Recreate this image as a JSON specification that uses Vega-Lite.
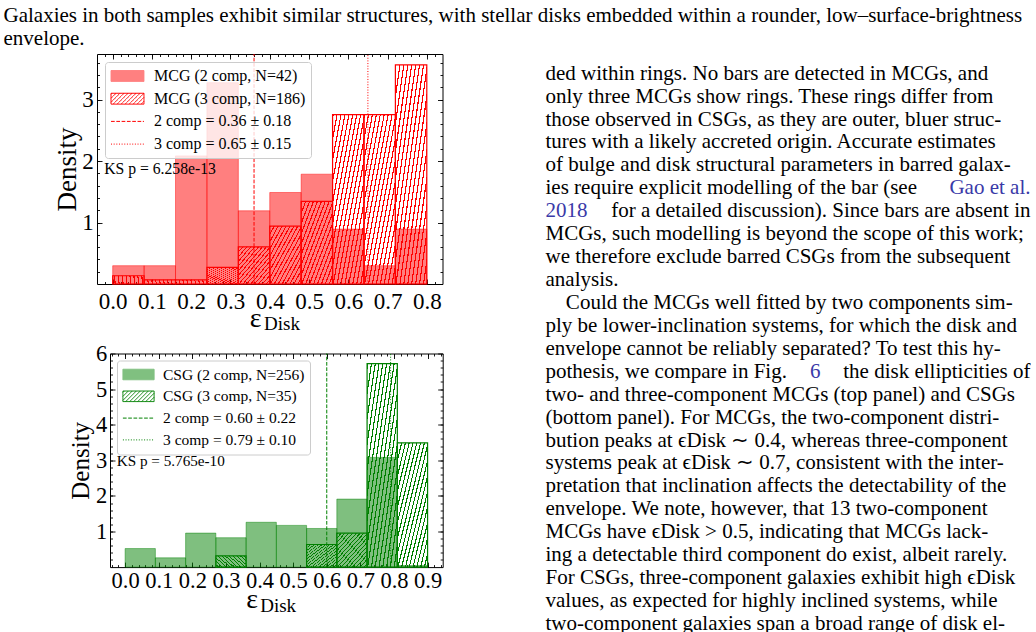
{
  "$schema": "https://vega.github.io/schema/vega-lite/v6.json",
  "padding": {"left": 3, "top": 5, "right": 0, "bottom": 0},
  "background": "#ffffff",
  "title": {
    "text": ["Galaxies in both samples exhibit similar structures, with stellar disks embedded within a rounder, low–surface-brightness", "envelope."],
    "anchor": "start", "frame": "group", "font": "Liberation Serif", "fontSize": 21, "fontWeight": "normal",
    "color": "#000000", "lineHeight": 23, "offset": 4, "dx": -46.5
  },
  "datasets": {
    "hist": [
      {"sample": "MCG", "comp": 2, "series": "MCG (2 comp, N=42)", "x0": 0.00, "x1": 0.08, "density": 0.2976},
      {"sample": "MCG", "comp": 2, "series": "MCG (2 comp, N=42)", "x0": 0.08, "x1": 0.16, "density": 0.2976},
      {"sample": "MCG", "comp": 2, "series": "MCG (2 comp, N=42)", "x0": 0.16, "x1": 0.24, "density": 2.0833},
      {"sample": "MCG", "comp": 2, "series": "MCG (2 comp, N=42)", "x0": 0.24, "x1": 0.32, "density": 3.2738},
      {"sample": "MCG", "comp": 2, "series": "MCG (2 comp, N=42)", "x0": 0.32, "x1": 0.40, "density": 1.1905},
      {"sample": "MCG", "comp": 2, "series": "MCG (2 comp, N=42)", "x0": 0.40, "x1": 0.48, "density": 1.4881},
      {"sample": "MCG", "comp": 2, "series": "MCG (2 comp, N=42)", "x0": 0.48, "x1": 0.56, "density": 1.7857},
      {"sample": "MCG", "comp": 2, "series": "MCG (2 comp, N=42)", "x0": 0.56, "x1": 0.64, "density": 0.8929},
      {"sample": "MCG", "comp": 2, "series": "MCG (2 comp, N=42)", "x0": 0.64, "x1": 0.72, "density": 0.2976},
      {"sample": "MCG", "comp": 2, "series": "MCG (2 comp, N=42)", "x0": 0.72, "x1": 0.80, "density": 0.8929},
      {"sample": "MCG", "comp": 3, "series": "MCG (3 comp, N=186)", "x0": 0.00, "x1": 0.08, "density": 0.1344},
      {"sample": "MCG", "comp": 3, "series": "MCG (3 comp, N=186)", "x0": 0.08, "x1": 0.16, "density": 0.0672},
      {"sample": "MCG", "comp": 3, "series": "MCG (3 comp, N=186)", "x0": 0.16, "x1": 0.24, "density": 0.0672},
      {"sample": "MCG", "comp": 3, "series": "MCG (3 comp, N=186)", "x0": 0.24, "x1": 0.32, "density": 0.2688},
      {"sample": "MCG", "comp": 3, "series": "MCG (3 comp, N=186)", "x0": 0.32, "x1": 0.40, "density": 0.6048},
      {"sample": "MCG", "comp": 3, "series": "MCG (3 comp, N=186)", "x0": 0.40, "x1": 0.48, "density": 0.9409},
      {"sample": "MCG", "comp": 3, "series": "MCG (3 comp, N=186)", "x0": 0.48, "x1": 0.56, "density": 1.3441},
      {"sample": "MCG", "comp": 3, "series": "MCG (3 comp, N=186)", "x0": 0.56, "x1": 0.64, "density": 2.7554},
      {"sample": "MCG", "comp": 3, "series": "MCG (3 comp, N=186)", "x0": 0.64, "x1": 0.72, "density": 2.7554},
      {"sample": "MCG", "comp": 3, "series": "MCG (3 comp, N=186)", "x0": 0.72, "x1": 0.80, "density": 3.5618},
      {"sample": "CSG", "comp": 2, "series": "CSG (2 comp, N=256)", "x0": 0.00, "x1": 0.09, "density": 0.521},
      {"sample": "CSG", "comp": 2, "series": "CSG (2 comp, N=256)", "x0": 0.09, "x1": 0.18, "density": 0.260},
      {"sample": "CSG", "comp": 2, "series": "CSG (2 comp, N=256)", "x0": 0.18, "x1": 0.27, "density": 0.955},
      {"sample": "CSG", "comp": 2, "series": "CSG (2 comp, N=256)", "x0": 0.27, "x1": 0.36, "density": 0.825},
      {"sample": "CSG", "comp": 2, "series": "CSG (2 comp, N=256)", "x0": 0.36, "x1": 0.45, "density": 1.259},
      {"sample": "CSG", "comp": 2, "series": "CSG (2 comp, N=256)", "x0": 0.45, "x1": 0.54, "density": 1.172},
      {"sample": "CSG", "comp": 2, "series": "CSG (2 comp, N=256)", "x0": 0.54, "x1": 0.63, "density": 1.085},
      {"sample": "CSG", "comp": 2, "series": "CSG (2 comp, N=256)", "x0": 0.63, "x1": 0.72, "density": 1.910},
      {"sample": "CSG", "comp": 2, "series": "CSG (2 comp, N=256)", "x0": 0.72, "x1": 0.81, "density": 3.082},
      {"sample": "CSG", "comp": 2, "series": "CSG (2 comp, N=256)", "x0": 0.81, "x1": 0.90, "density": 0.043},
      {"sample": "CSG", "comp": 3, "series": "CSG (3 comp, N=35)", "x0": 0.27, "x1": 0.36, "density": 0.317},
      {"sample": "CSG", "comp": 3, "series": "CSG (3 comp, N=35)", "x0": 0.54, "x1": 0.63, "density": 0.635},
      {"sample": "CSG", "comp": 3, "series": "CSG (3 comp, N=35)", "x0": 0.63, "x1": 0.72, "density": 0.952},
      {"sample": "CSG", "comp": 3, "series": "CSG (3 comp, N=35)", "x0": 0.72, "x1": 0.81, "density": 5.714},
      {"sample": "CSG", "comp": 3, "series": "CSG (3 comp, N=35)", "x0": 0.81, "x1": 0.90, "density": 3.492}
    ],
    "means": [
      {"sample": "MCG", "series": "2 comp = 0.36 ± 0.18", "mean": 0.36, "style": "dashed"},
      {"sample": "MCG", "series": "3 comp = 0.65 ± 0.15", "mean": 0.65, "style": "dotted"},
      {"sample": "CSG", "series": "2 comp = 0.60 ± 0.22", "mean": 0.60, "style": "dashed"},
      {"sample": "CSG", "series": "3 comp = 0.79 ± 0.10", "mean": 0.79, "style": "dotted"}
    ],
    "body": [
      {"line": 1, "kind": "line", "text": "ded within rings.  No bars are detected in MCGs, and"},
      {"line": 2, "kind": "line", "text": "only three MCGs show rings.  These rings differ from"},
      {"line": 3, "kind": "line", "text": "those observed in CSGs, as they are outer, bluer struc-"},
      {"line": 4, "kind": "line", "text": "tures with a likely accreted origin.  Accurate estimates"},
      {"line": 5, "kind": "line", "text": "of bulge and disk structural parameters in barred galax-"},
      {"line": 6, "kind": "line", "text": "ies require explicit modelling of the bar (see"},
      {"line": 6, "kind": "linkend", "text": "Gao et al."},
      {"line": 7, "kind": "linkstart", "text": "2018"},
      {"line": 7, "kind": "end", "text": "for a detailed discussion).  Since bars are absent in"},
      {"line": 8, "kind": "line", "text": "MCGs, such modelling is beyond the scope of this work;"},
      {"line": 9, "kind": "line", "text": "we therefore exclude barred CSGs from the subsequent"},
      {"line": 10, "kind": "line", "text": "analysis."},
      {"line": 11, "kind": "indent", "text": "Could the MCGs well fitted by two components sim-"},
      {"line": 12, "kind": "line", "text": "ply be lower-inclination systems, for which the disk and"},
      {"line": 13, "kind": "line", "text": "envelope cannot be reliably separated? To test this hy-"},
      {"line": 14, "kind": "line", "text": "pothesis, we compare in Fig."},
      {"line": 14, "kind": "linkmid", "text": "6"},
      {"line": 14, "kind": "end", "text": "the disk ellipticities of"},
      {"line": 15, "kind": "line", "text": "two- and three-component MCGs (top panel) and CSGs"},
      {"line": 16, "kind": "line", "text": "(bottom panel).  For MCGs, the two-component distri-"},
      {"line": 17, "kind": "line", "text": "bution peaks at ϵDisk ∼ 0.4, whereas three-component"},
      {"line": 18, "kind": "line", "text": "systems peak at ϵDisk ∼ 0.7, consistent with the inter-"},
      {"line": 19, "kind": "line", "text": "pretation that inclination affects the detectability of the"},
      {"line": 20, "kind": "line", "text": "envelope.  We note, however, that 13 two-component"},
      {"line": 21, "kind": "line", "text": "MCGs have ϵDisk > 0.5, indicating that MCGs lack-"},
      {"line": 22, "kind": "line", "text": "ing a detectable third component do exist, albeit rarely."},
      {"line": 23, "kind": "line", "text": "For CSGs, three-component galaxies exhibit high ϵDisk"},
      {"line": 24, "kind": "line", "text": "values, as expected for highly inclined systems, while"},
      {"line": 25, "kind": "line", "text": "two-component galaxies span a broad range of disk el-"}
    ]
  },
  "spacing": 101.5,
  "hconcat": [
    {
      "vconcat": [
        {
          "spacing": 0,
          "resolve": {"scale": {"color": "independent"}, "legend": {"color": "independent"}},
          "hconcat": [
            {"width": 2, "height": 10, "data": {"values": [{}]}, "mark": {"type": "text", "text": ""}},
            {
              "width": 345.5, "height": 230,
              "view": {"stroke": "#000000", "strokeWidth": 1},
              "resolve": {"axis": {"x": "independent", "y": "independent"}},
              "layer": [
                {
                  "data": {"name": "hist"},
                  "transform": [{"filter": "datum.sample === 'MCG' && datum.comp === 2"}],
                  "mark": {"type": "bar", "fill": "#ff0000", "fillOpacity": 0.5, "stroke": "#ff0000", "strokeOpacity": 0.45, "strokeWidth": 1},
                  "encoding": {
                    "x": {"field": "x0", "type": "quantitative", "scale": {"domain": [-0.04, 0.84], "nice": false, "zero": false},
                      "axis": {"orient": "bottom", "values": [0, 0.1, 0.2, 0.3, 0.4, 0.5, 0.6, 0.7, 0.8], "format": ".1f", "tickSize": -5, "labelFontSize": 23, "labelPadding": 11,
                        "title": "ε", "titleFontSize": 28, "titleX": 158, "titleY": 42, "titleAlign": "center", "titleBaseline": "alphabetic", "titleAngle": 0}},
                    "x2": {"field": "x1"},
                    "y": {"field": "density", "type": "quantitative", "scale": {"domain": [0, 3.74], "nice": false, "zero": false},
                      "axis": {"orient": "left", "values": [1, 2, 3], "tickSize": -5, "labelFontSize": 23, "labelPadding": 8.8,
                        "title": "Density", "titleFontSize": 27, "titleX": -30, "titleY": 115, "titleAngle": 270, "titleAlign": "center", "titleBaseline": "middle"}},
                    "y2": {"datum": 0}
                  }
                },
                {
                  "data": {"name": "hist"},
                  "transform": [{"filter": "datum.sample === 'MCG' && datum.comp === 3"}],
                  "mark": {"type": "bar", "stroke": "#ff0000", "strokeWidth": 1.2,
                    "fill": {"gradient": "linear", "x1": 0, "y1": 0, "x2": 1, "y2": 1, "stops": [
                      {"offset": 0, "color": "#ff0000"}, {"offset": 0.01875, "color": "#ff0000"}, {"offset": 0.01875, "color": "rgba(255,0,0,0)"}, {"offset": 0.0625, "color": "rgba(255,0,0,0)"},
                      {"offset": 0.0625, "color": "#ff0000"}, {"offset": 0.08125, "color": "#ff0000"}, {"offset": 0.08125, "color": "rgba(255,0,0,0)"}, {"offset": 0.125, "color": "rgba(255,0,0,0)"},
                      {"offset": 0.125, "color": "#ff0000"}, {"offset": 0.14375, "color": "#ff0000"}, {"offset": 0.14375, "color": "rgba(255,0,0,0)"}, {"offset": 0.1875, "color": "rgba(255,0,0,0)"},
                      {"offset": 0.1875, "color": "#ff0000"}, {"offset": 0.20625, "color": "#ff0000"}, {"offset": 0.20625, "color": "rgba(255,0,0,0)"}, {"offset": 0.25, "color": "rgba(255,0,0,0)"},
                      {"offset": 0.25, "color": "#ff0000"}, {"offset": 0.26875, "color": "#ff0000"}, {"offset": 0.26875, "color": "rgba(255,0,0,0)"}, {"offset": 0.3125, "color": "rgba(255,0,0,0)"},
                      {"offset": 0.3125, "color": "#ff0000"}, {"offset": 0.33125, "color": "#ff0000"}, {"offset": 0.33125, "color": "rgba(255,0,0,0)"}, {"offset": 0.375, "color": "rgba(255,0,0,0)"},
                      {"offset": 0.375, "color": "#ff0000"}, {"offset": 0.39375, "color": "#ff0000"}, {"offset": 0.39375, "color": "rgba(255,0,0,0)"}, {"offset": 0.4375, "color": "rgba(255,0,0,0)"},
                      {"offset": 0.4375, "color": "#ff0000"}, {"offset": 0.45625, "color": "#ff0000"}, {"offset": 0.45625, "color": "rgba(255,0,0,0)"}, {"offset": 0.5, "color": "rgba(255,0,0,0)"},
                      {"offset": 0.5, "color": "#ff0000"}, {"offset": 0.51875, "color": "#ff0000"}, {"offset": 0.51875, "color": "rgba(255,0,0,0)"}, {"offset": 0.5625, "color": "rgba(255,0,0,0)"},
                      {"offset": 0.5625, "color": "#ff0000"}, {"offset": 0.58125, "color": "#ff0000"}, {"offset": 0.58125, "color": "rgba(255,0,0,0)"}, {"offset": 0.625, "color": "rgba(255,0,0,0)"},
                      {"offset": 0.625, "color": "#ff0000"}, {"offset": 0.64375, "color": "#ff0000"}, {"offset": 0.64375, "color": "rgba(255,0,0,0)"}, {"offset": 0.6875, "color": "rgba(255,0,0,0)"},
                      {"offset": 0.6875, "color": "#ff0000"}, {"offset": 0.70625, "color": "#ff0000"}, {"offset": 0.70625, "color": "rgba(255,0,0,0)"}, {"offset": 0.75, "color": "rgba(255,0,0,0)"},
                      {"offset": 0.75, "color": "#ff0000"}, {"offset": 0.76875, "color": "#ff0000"}, {"offset": 0.76875, "color": "rgba(255,0,0,0)"}, {"offset": 0.8125, "color": "rgba(255,0,0,0)"},
                      {"offset": 0.8125, "color": "#ff0000"}, {"offset": 0.83125, "color": "#ff0000"}, {"offset": 0.83125, "color": "rgba(255,0,0,0)"}, {"offset": 0.875, "color": "rgba(255,0,0,0)"},
                      {"offset": 0.875, "color": "#ff0000"}, {"offset": 0.89375, "color": "#ff0000"}, {"offset": 0.89375, "color": "rgba(255,0,0,0)"}, {"offset": 0.9375, "color": "rgba(255,0,0,0)"},
                      {"offset": 0.9375, "color": "#ff0000"}, {"offset": 0.95625, "color": "#ff0000"}, {"offset": 0.95625, "color": "rgba(255,0,0,0)"}, {"offset": 1, "color": "rgba(255,0,0,0)"}
                    ]}},
                  "encoding": {
                    "x": {"field": "x0", "type": "quantitative", "scale": {"domain": [-0.04, 0.84], "nice": false, "zero": false},
                      "axis": {"orient": "top", "values": [0, 0.1, 0.2, 0.3, 0.4, 0.5, 0.6, 0.7, 0.8], "tickSize": -5, "labels": false, "title": null}},
                    "x2": {"field": "x1"},
                    "y": {"field": "density", "type": "quantitative", "scale": {"domain": [0, 3.74], "nice": false, "zero": false},
                      "axis": {"orient": "right", "values": [1, 2, 3], "tickSize": -5, "labels": false, "title": null}},
                    "y2": {"datum": 0}
                  }
                },
                {
                  "data": {"name": "means"},
                  "transform": [{"filter": "datum.sample === 'MCG'"}],
                  "mark": {"type": "rule", "strokeWidth": 1},
                  "encoding": {
                    "x": {"field": "mean", "type": "quantitative", "scale": {"domain": [-0.04, 0.84], "nice": false, "zero": false},
                      "axis": {"orient": "bottom", "values": [-0.02, 0, 0.02, 0.04, 0.06, 0.08, 0.1, 0.12, 0.14, 0.16, 0.18, 0.2, 0.22, 0.24, 0.26, 0.28, 0.3, 0.32, 0.34, 0.36, 0.38, 0.4, 0.42, 0.44, 0.46, 0.48, 0.5, 0.52, 0.54, 0.56, 0.58, 0.6, 0.62, 0.64, 0.66, 0.68, 0.7, 0.72, 0.74, 0.76, 0.78, 0.8, 0.82],
                        "tickSize": -2.5, "labels": false, "title": "Disk", "titleFontSize": 19, "titleX": 166.5, "titleY": 45, "titleAlign": "left", "titleBaseline": "alphabetic", "titleAngle": 0}},
                    "y": {"datum": 0, "type": "quantitative", "scale": {"domain": [0, 3.74], "nice": false, "zero": false},
                      "axis": {"orient": "right", "values": [0.2, 0.4, 0.6, 0.8, 1, 1.2, 1.4, 1.6, 1.8, 2, 2.2, 2.4, 2.6, 2.8, 3, 3.2, 3.4, 3.6], "tickSize": -2.5, "labels": false, "title": null}},
                    "y2": {"datum": 3.74},
                    "color": {"field": "series", "type": "nominal",
                      "scale": {"domain": ["MCG (2 comp, N=42)", "MCG (3 comp, N=186)", "2 comp = 0.36 ± 0.18", "3 comp = 0.65 ± 0.15"], "range": ["#ff8080", "#ff0000", "#ff0000", "#ff0000"]},
                      "legend": {
                        "orient": "top-left", "offset": 7.5, "title": null, "labelFontSize": 16, "labelOffset": 18, "symbolSize": 256, "symbolOffset": 8.5, "rowPadding": 5.7, "padding": 5.5,
                        "fillColor": "rgba(255,255,255,0.8)", "strokeColor": "#cccccc", "cornerRadius": 3, "symbolType": "stroke", "symbolStrokeColor": "#ff0000",
                        "encode": {"symbols": {"update": {
                          "shape": [
                            {"test": "datum.value === 'MCG (2 comp, N=42)'", "value": "M-2.06,-0.68H2.06V0.68H-2.06Z"},
                            {"test": "datum.value === 'MCG (3 comp, N=186)'", "value": "M-2.06,-0.68H2.06V0.68H-2.06Z M-2.06,-0.56L-1.94,-0.68 M-2.06,-0.06L-1.44,-0.68 M-2.06,0.44L-0.94,-0.68 M-1.8,0.68L-0.44,-0.68 M-1.3,0.68L0.06,-0.68 M-0.8,0.68L0.56,-0.68 M-0.3,0.68L1.06,-0.68 M0.2,0.68L1.56,-0.68 M0.7,0.68L2.06,-0.68 M1.2,0.68L2.06,-0.18 M1.7,0.68L2.06,0.32"},
                            {"value": "M-2.06,0H2.06"}
                          ],
                          "fill": [
                            {"test": "datum.value === 'MCG (2 comp, N=42)'", "value": "#ff8080"},
                            {"test": "datum.value === 'MCG (3 comp, N=186)'", "value": "#ffffff"},
                            {"value": "transparent"}
                          ],
                          "stroke": [
                            {"test": "datum.value === 'MCG (2 comp, N=42)'", "value": "#ff8080"},
                            {"value": "#ff0000"}
                          ],
                          "strokeDash": [
                            {"test": "datum.value === '2 comp = 0.36 ± 0.18'", "value": [3.7, 1.6]},
                            {"test": "datum.value === '3 comp = 0.65 ± 0.15'", "value": [1, 1.65]},
                            {"value": [1, 0]}
                          ],
                          "strokeWidth": {"value": 1}
                        }}}
                      }},
                    "strokeDash": {"condition": {"test": "datum.style === 'dashed'", "value": [3.7, 1.6]}, "value": [1, 1.65]}
                  }
                },
                {
                  "data": {"values": [{"label": "KS p = 6.258e-13"}]},
                  "mark": {"type": "text", "align": "left", "baseline": "middle", "font": "Liberation Serif", "fontSize": 15.7, "color": "#000000"},
                  "encoding": {
                    "x": {"datum": -0.0217, "type": "quantitative", "scale": {"domain": [-0.04, 0.84], "nice": false, "zero": false},
                      "axis": {"orient": "top", "values": [-0.02, 0, 0.02, 0.04, 0.06, 0.08, 0.1, 0.12, 0.14, 0.16, 0.18, 0.2, 0.22, 0.24, 0.26, 0.28, 0.3, 0.32, 0.34, 0.36, 0.38, 0.4, 0.42, 0.44, 0.46, 0.48, 0.5, 0.52, 0.54, 0.56, 0.58, 0.6, 0.62, 0.64, 0.66, 0.68, 0.7, 0.72, 0.74, 0.76, 0.78, 0.8, 0.82],
                        "tickSize": -2.5, "labels": false, "title": null}},
                    "y": {"datum": 1.87, "type": "quantitative", "scale": {"domain": [0, 3.74], "nice": false, "zero": false},
                      "axis": {"orient": "left", "values": [0.2, 0.4, 0.6, 0.8, 1, 1.2, 1.4, 1.6, 1.8, 2, 2.2, 2.4, 2.6, 2.8, 3, 3.2, 3.4, 3.6], "tickSize": -2.5, "labels": false, "title": null}},
                    "text": {"field": "label"}
                  }
                }
              ]
            }
          ]
        },
        {
          "spacing": 0,
          "resolve": {"scale": {"color": "independent"}, "legend": {"color": "independent"}},
          "hconcat": [
            {"width": 17.3, "height": 10, "data": {"values": [{}]}, "mark": {"type": "text", "text": ""}},
            {
              "width": 332.7, "height": 213.6,
              "view": {"stroke": "#000000", "strokeWidth": 1},
              "resolve": {"axis": {"x": "independent", "y": "independent"}},
              "layer": [
                {
                  "data": {"name": "hist"},
                  "transform": [{"filter": "datum.sample === 'CSG' && datum.comp === 2"}],
                  "mark": {"type": "bar", "fill": "#008000", "fillOpacity": 0.5, "stroke": "#008000", "strokeOpacity": 0.45, "strokeWidth": 1},
                  "encoding": {
                    "x": {"field": "x0", "type": "quantitative", "scale": {"domain": [-0.045, 0.945], "nice": false, "zero": false},
                      "axis": {"orient": "bottom", "values": [0, 0.1, 0.2, 0.3, 0.4, 0.5, 0.6, 0.7, 0.8, 0.9], "format": ".1f", "tickSize": -5, "labelFontSize": 22.5, "labelPadding": 7.2,
                        "title": "ε", "titleFontSize": 28, "titleX": 141.7, "titleY": 40.7, "titleAlign": "center", "titleBaseline": "alphabetic", "titleAngle": 0}},
                    "x2": {"field": "x1"},
                    "y": {"field": "density", "type": "quantitative", "scale": {"domain": [0, 6], "nice": false, "zero": false},
                      "axis": {"orient": "left", "values": [1, 2, 3, 4, 5, 6], "tickSize": -5, "labelFontSize": 22.5, "labelPadding": 8.3,
                        "title": "Density", "titleFontSize": 25, "titleX": -29.3, "titleY": 106.8, "titleAngle": 270, "titleAlign": "center", "titleBaseline": "middle"}},
                    "y2": {"datum": 0}
                  }
                },
                {
                  "data": {"name": "hist"},
                  "transform": [{"filter": "datum.sample === 'CSG' && datum.comp === 3"}],
                  "mark": {"type": "bar", "stroke": "#008000", "strokeWidth": 1.2,
                    "fill": {"gradient": "linear", "x1": 0, "y1": 0, "x2": 1, "y2": 1, "stops": [
                      {"offset": 0, "color": "#008000"}, {"offset": 0.01875, "color": "#008000"}, {"offset": 0.01875, "color": "rgba(0,128,0,0)"}, {"offset": 0.0625, "color": "rgba(0,128,0,0)"},
                      {"offset": 0.0625, "color": "#008000"}, {"offset": 0.08125, "color": "#008000"}, {"offset": 0.08125, "color": "rgba(0,128,0,0)"}, {"offset": 0.125, "color": "rgba(0,128,0,0)"},
                      {"offset": 0.125, "color": "#008000"}, {"offset": 0.14375, "color": "#008000"}, {"offset": 0.14375, "color": "rgba(0,128,0,0)"}, {"offset": 0.1875, "color": "rgba(0,128,0,0)"},
                      {"offset": 0.1875, "color": "#008000"}, {"offset": 0.20625, "color": "#008000"}, {"offset": 0.20625, "color": "rgba(0,128,0,0)"}, {"offset": 0.25, "color": "rgba(0,128,0,0)"},
                      {"offset": 0.25, "color": "#008000"}, {"offset": 0.26875, "color": "#008000"}, {"offset": 0.26875, "color": "rgba(0,128,0,0)"}, {"offset": 0.3125, "color": "rgba(0,128,0,0)"},
                      {"offset": 0.3125, "color": "#008000"}, {"offset": 0.33125, "color": "#008000"}, {"offset": 0.33125, "color": "rgba(0,128,0,0)"}, {"offset": 0.375, "color": "rgba(0,128,0,0)"},
                      {"offset": 0.375, "color": "#008000"}, {"offset": 0.39375, "color": "#008000"}, {"offset": 0.39375, "color": "rgba(0,128,0,0)"}, {"offset": 0.4375, "color": "rgba(0,128,0,0)"},
                      {"offset": 0.4375, "color": "#008000"}, {"offset": 0.45625, "color": "#008000"}, {"offset": 0.45625, "color": "rgba(0,128,0,0)"}, {"offset": 0.5, "color": "rgba(0,128,0,0)"},
                      {"offset": 0.5, "color": "#008000"}, {"offset": 0.51875, "color": "#008000"}, {"offset": 0.51875, "color": "rgba(0,128,0,0)"}, {"offset": 0.5625, "color": "rgba(0,128,0,0)"},
                      {"offset": 0.5625, "color": "#008000"}, {"offset": 0.58125, "color": "#008000"}, {"offset": 0.58125, "color": "rgba(0,128,0,0)"}, {"offset": 0.625, "color": "rgba(0,128,0,0)"},
                      {"offset": 0.625, "color": "#008000"}, {"offset": 0.64375, "color": "#008000"}, {"offset": 0.64375, "color": "rgba(0,128,0,0)"}, {"offset": 0.6875, "color": "rgba(0,128,0,0)"},
                      {"offset": 0.6875, "color": "#008000"}, {"offset": 0.70625, "color": "#008000"}, {"offset": 0.70625, "color": "rgba(0,128,0,0)"}, {"offset": 0.75, "color": "rgba(0,128,0,0)"},
                      {"offset": 0.75, "color": "#008000"}, {"offset": 0.76875, "color": "#008000"}, {"offset": 0.76875, "color": "rgba(0,128,0,0)"}, {"offset": 0.8125, "color": "rgba(0,128,0,0)"},
                      {"offset": 0.8125, "color": "#008000"}, {"offset": 0.83125, "color": "#008000"}, {"offset": 0.83125, "color": "rgba(0,128,0,0)"}, {"offset": 0.875, "color": "rgba(0,128,0,0)"},
                      {"offset": 0.875, "color": "#008000"}, {"offset": 0.89375, "color": "#008000"}, {"offset": 0.89375, "color": "rgba(0,128,0,0)"}, {"offset": 0.9375, "color": "rgba(0,128,0,0)"},
                      {"offset": 0.9375, "color": "#008000"}, {"offset": 0.95625, "color": "#008000"}, {"offset": 0.95625, "color": "rgba(0,128,0,0)"}, {"offset": 1, "color": "rgba(0,128,0,0)"}
                    ]}},
                  "encoding": {
                    "x": {"field": "x0", "type": "quantitative", "scale": {"domain": [-0.045, 0.945], "nice": false, "zero": false},
                      "axis": {"orient": "top", "values": [0, 0.1, 0.2, 0.3, 0.4, 0.5, 0.6, 0.7, 0.8, 0.9], "tickSize": -5, "labels": false, "title": null}},
                    "x2": {"field": "x1"},
                    "y": {"field": "density", "type": "quantitative", "scale": {"domain": [0, 6], "nice": false, "zero": false},
                      "axis": {"orient": "right", "values": [1, 2, 3, 4, 5, 6], "tickSize": -5, "labels": false, "title": null}},
                    "y2": {"datum": 0}
                  }
                },
                {
                  "data": {"name": "means"},
                  "transform": [{"filter": "datum.sample === 'CSG'"}],
                  "mark": {"type": "rule", "strokeWidth": 1},
                  "encoding": {
                    "x": {"field": "mean", "type": "quantitative", "scale": {"domain": [-0.045, 0.945], "nice": false, "zero": false},
                      "axis": {"orient": "bottom", "values": [-0.04, -0.02, 0, 0.02, 0.04, 0.06, 0.08, 0.1, 0.12, 0.14, 0.16, 0.18, 0.2, 0.22, 0.24, 0.26, 0.28, 0.3, 0.32, 0.34, 0.36, 0.38, 0.4, 0.42, 0.44, 0.46, 0.48, 0.5, 0.52, 0.54, 0.56, 0.58, 0.6, 0.62, 0.64, 0.66, 0.68, 0.7, 0.72, 0.74, 0.76, 0.78, 0.8, 0.82, 0.84, 0.86, 0.88, 0.9, 0.92, 0.94],
                        "tickSize": -2.5, "labels": false, "title": "Disk", "titleFontSize": 19, "titleX": 149.7, "titleY": 44.7, "titleAlign": "left", "titleBaseline": "alphabetic", "titleAngle": 0}},
                    "y": {"datum": 0, "type": "quantitative", "scale": {"domain": [0, 6], "nice": false, "zero": false},
                      "axis": {"orient": "right", "values": [0.2, 0.4, 0.6, 0.8, 1, 1.2, 1.4, 1.6, 1.8, 2, 2.2, 2.4, 2.6, 2.8, 3, 3.2, 3.4, 3.6, 3.8, 4, 4.2, 4.4, 4.6, 4.8, 5, 5.2, 5.4, 5.6, 5.8], "tickSize": -2.5, "labels": false, "title": null}},
                    "y2": {"datum": 6},
                    "color": {"field": "series", "type": "nominal",
                      "scale": {"domain": ["CSG (2 comp, N=256)", "CSG (3 comp, N=35)", "2 comp = 0.60 ± 0.22", "3 comp = 0.79 ± 0.10"], "range": ["#80c080", "#008000", "#008000", "#008000"]},
                      "legend": {
                        "orient": "top-left", "offset": 7, "title": null, "labelFontSize": 15.5, "labelOffset": 16, "symbolSize": 256, "symbolOffset": 7.5, "rowPadding": 4.8, "padding": 5.5,
                        "fillColor": "rgba(255,255,255,0.8)", "strokeColor": "#cccccc", "cornerRadius": 3, "symbolType": "stroke", "symbolStrokeColor": "#008000",
                        "encode": {"symbols": {"update": {
                          "shape": [
                            {"test": "datum.value === 'CSG (2 comp, N=256)'", "value": "M-1.95,-0.66H1.95V0.66H-1.95Z"},
                            {"test": "datum.value === 'CSG (3 comp, N=35)'", "value": "M-1.95,-0.66H1.95V0.66H-1.95Z M-1.95,-0.49L-1.78,-0.66 M-1.95,0.01L-1.28,-0.66 M-1.95,0.51L-0.78,-0.66 M-1.6,0.66L-0.28,-0.66 M-1.1,0.66L0.22,-0.66 M-0.6,0.66L0.72,-0.66 M-0.1,0.66L1.22,-0.66 M0.4,0.66L1.72,-0.66 M0.9,0.66L1.95,-0.39 M1.4,0.66L1.95,0.11"},
                            {"value": "M-1.95,0H1.95"}
                          ],
                          "fill": [
                            {"test": "datum.value === 'CSG (2 comp, N=256)'", "value": "#80c080"},
                            {"test": "datum.value === 'CSG (3 comp, N=35)'", "value": "#ffffff"},
                            {"value": "transparent"}
                          ],
                          "stroke": [
                            {"test": "datum.value === 'CSG (2 comp, N=256)'", "value": "#80c080"},
                            {"value": "#008000"}
                          ],
                          "strokeDash": [
                            {"test": "datum.value === '2 comp = 0.60 ± 0.22'", "value": [3.7, 1.6]},
                            {"test": "datum.value === '3 comp = 0.79 ± 0.10'", "value": [1, 1.65]},
                            {"value": [1, 0]}
                          ],
                          "strokeWidth": {"value": 1}
                        }}}
                      }},
                    "strokeDash": {"condition": {"test": "datum.style === 'dashed'", "value": [3.7, 1.6]}, "value": [1, 1.65]}
                  }
                },
                {
                  "data": {"values": [{"label": "KS p = 5.765e-10"}]},
                  "mark": {"type": "text", "align": "left", "baseline": "middle", "font": "Liberation Serif", "fontSize": 15.2, "color": "#000000"},
                  "encoding": {
                    "x": {"datum": -0.0251, "type": "quantitative", "scale": {"domain": [-0.045, 0.945], "nice": false, "zero": false},
                      "axis": {"orient": "top", "values": [-0.04, -0.02, 0, 0.02, 0.04, 0.06, 0.08, 0.1, 0.12, 0.14, 0.16, 0.18, 0.2, 0.22, 0.24, 0.26, 0.28, 0.3, 0.32, 0.34, 0.36, 0.38, 0.4, 0.42, 0.44, 0.46, 0.48, 0.5, 0.52, 0.54, 0.56, 0.58, 0.6, 0.62, 0.64, 0.66, 0.68, 0.7, 0.72, 0.74, 0.76, 0.78, 0.8, 0.82, 0.84, 0.86, 0.88, 0.9, 0.92, 0.94],
                        "tickSize": -2.5, "labels": false, "title": null}},
                    "y": {"datum": 2.98, "type": "quantitative", "scale": {"domain": [0, 6], "nice": false, "zero": false},
                      "axis": {"orient": "left", "values": [0.2, 0.4, 0.6, 0.8, 1, 1.2, 1.4, 1.6, 1.8, 2, 2.2, 2.4, 2.6, 2.8, 3, 3.2, 3.4, 3.6, 3.8, 4, 4.2, 4.4, 4.6, 4.8, 5, 5.2, 5.4, 5.6, 5.8], "tickSize": -2.5, "labels": false, "title": null}},
                    "text": {"field": "label"}
                  }
                }
              ]
            }
          ]
        }
      ],
      "align": "none",
      "spacing": 7.5,
      "resolve": {"scale": {"color": "independent"}, "legend": {"color": "independent"}}
    },
    {
      "width": 485, "height": 570,
      "data": {"name": "body"},
      "layer": [
        {
          "transform": [{"filter": "datum.kind === 'line'"}],
          "mark": {"type": "text", "align": "left", "baseline": "middle", "font": "Liberation Serif", "fontSize": 21, "color": "#000000"},
          "encoding": {
            "x": {"datum": 0, "type": "quantitative", "scale": {"domain": [0, 1], "nice": false, "zero": false}, "axis": null},
            "y": {"field": "line", "type": "quantitative", "scale": {"domain": [0.141, 25], "nice": false, "zero": false, "reverse": true}, "axis": null},
            "text": {"field": "text"}
          }
        },
        {
          "transform": [{"filter": "datum.kind === 'indent'"}],
          "mark": {"type": "text", "align": "left", "baseline": "middle", "font": "Liberation Serif", "fontSize": 21, "color": "#000000"},
          "encoding": {
            "x": {"datum": 0.042, "type": "quantitative", "scale": {"domain": [0, 1], "nice": false, "zero": false}, "axis": null},
            "y": {"field": "line", "type": "quantitative", "scale": {"domain": [0.141, 25], "nice": false, "zero": false, "reverse": true}, "axis": null},
            "text": {"field": "text"}
          }
        },
        {
          "transform": [{"filter": "datum.kind === 'end'"}],
          "mark": {"type": "text", "align": "right", "baseline": "middle", "font": "Liberation Serif", "fontSize": 21, "color": "#000000"},
          "encoding": {
            "x": {"datum": 1, "type": "quantitative", "scale": {"domain": [0, 1], "nice": false, "zero": false}, "axis": null},
            "y": {"field": "line", "type": "quantitative", "scale": {"domain": [0.141, 25], "nice": false, "zero": false, "reverse": true}, "axis": null},
            "text": {"field": "text"}
          }
        },
        {
          "transform": [{"filter": "datum.kind === 'linkstart'"}],
          "mark": {"type": "text", "align": "left", "baseline": "middle", "font": "Liberation Serif", "fontSize": 21, "color": "#3a3aa8"},
          "encoding": {
            "x": {"datum": 0, "type": "quantitative", "scale": {"domain": [0, 1], "nice": false, "zero": false}, "axis": null},
            "y": {"field": "line", "type": "quantitative", "scale": {"domain": [0.141, 25], "nice": false, "zero": false, "reverse": true}, "axis": null},
            "text": {"field": "text"}
          }
        },
        {
          "transform": [{"filter": "datum.kind === 'linkend'"}],
          "mark": {"type": "text", "align": "right", "baseline": "middle", "font": "Liberation Serif", "fontSize": 21, "color": "#3a3aa8"},
          "encoding": {
            "x": {"datum": 1, "type": "quantitative", "scale": {"domain": [0, 1], "nice": false, "zero": false}, "axis": null},
            "y": {"field": "line", "type": "quantitative", "scale": {"domain": [0.141, 25], "nice": false, "zero": false, "reverse": true}, "axis": null},
            "text": {"field": "text"}
          }
        },
        {
          "transform": [{"filter": "datum.kind === 'linkmid'"}],
          "mark": {"type": "text", "align": "center", "baseline": "middle", "font": "Liberation Serif", "fontSize": 21, "color": "#3a3aa8"},
          "encoding": {
            "x": {"datum": 0.556, "type": "quantitative", "scale": {"domain": [0, 1], "nice": false, "zero": false}, "axis": null},
            "y": {"field": "line", "type": "quantitative", "scale": {"domain": [0.141, 25], "nice": false, "zero": false, "reverse": true}, "axis": null},
            "text": {"field": "text"}
          }
        }
      ]
    }
  ],
  "config": {
    "view": {"stroke": null},
    "font": "Liberation Serif",
    "axis": {"domain": false, "grid": false, "tickColor": "#000000", "tickWidth": 0.9, "labelColor": "#000000", "labelFont": "Liberation Serif", "labelFlush": false, "labelOverlap": false, "titleFont": "Liberation Serif", "titleFontWeight": "normal", "titleColor": "#000000"},
    "legend": {"labelFont": "Liberation Serif", "labelColor": "#000000", "labelLimit": 400}
  }
}
